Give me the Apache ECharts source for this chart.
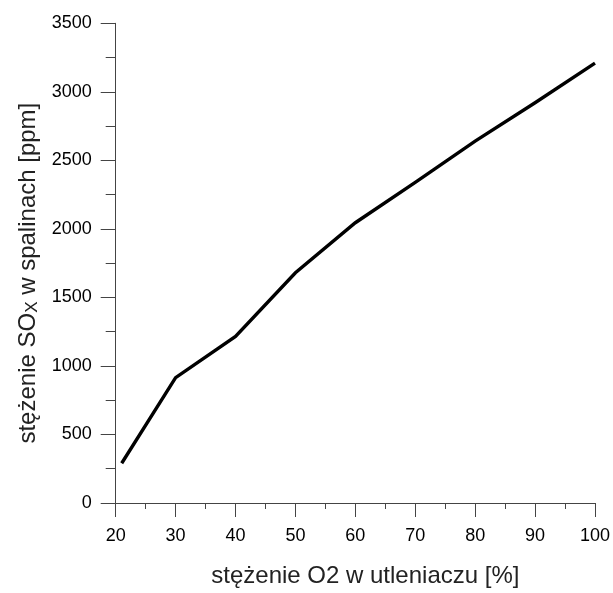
<!DOCTYPE html>
<html>
<head>
<meta charset="utf-8">
<script src="https://cdn.jsdelivr.net/npm/echarts@6/dist/echarts.min.js"></script>
<style>html,body{margin:0;padding:0;background:#fff}#c{width:613px;height:593px}</style>
</head>
<body>
<div id="c"></div>
<script>
var o2Percent = [21, 30, 40, 50, 60, 70, 80, 90, 100];
var soxPpm = [290, 915, 1215, 1680, 2045, 2340, 2640, 2920, 3210];
var xTitle = 'stężenie O2 w utleniaczu [%]';
var yTitle = '{t|stężenie SO}{sub|X}{t| w spalinach [ppm]}';

var chart = echarts.init(document.getElementById('c'), null, {renderer: 'canvas'});
var font = '"Liberation Sans", Arial, sans-serif';
var axisCol = '#444';
chart.setOption({
  animation: false,
  backgroundColor: '#fff',
  grid: {left: 115.7, right: 15.7, top: 23.3, bottom: 86.3, containLabel: false},
  xAxis: {
    type: 'value', min: 20, max: 100, interval: 10,
    name: xTitle, nameLocation: 'middle', nameGap: 61,
    nameTextStyle: {fontFamily: font, fontSize: 24, color: '#222', padding: [0, 0, 0, 20]},
    axisLine: {show: true, onZero: false, lineStyle: {color: axisCol, width: 1}},
    axisTick: {show: true, inside: false, length: 14, lineStyle: {color: axisCol, width: 1}},
    minorTick: {show: true, splitNumber: 2, length: 6, lineStyle: {color: axisCol, width: 1}},
    axisLabel: {fontFamily: font, fontSize: 18, color: '#000', margin: 24,
      formatter: function (v) { return String(v); }},
    splitLine: {show: false}
  },
  yAxis: {
    type: 'value', min: 0, max: 3500, interval: 500,
    name: yTitle, nameLocation: 'middle', nameGap: 72, nameRotate: 90,
    nameTextStyle: {fontFamily: font, fontSize: 24, color: '#222', padding: [0, 20, 0, 0],
      rich: {t: {fontFamily: font, fontSize: 24, color: '#222'},
             sub: {fontFamily: font, fontSize: 17, color: '#222', padding: [8, 0, 0, 0]}}},
    axisLine: {show: true, onZero: false, lineStyle: {color: axisCol, width: 1}},
    axisTick: {show: true, inside: false, length: 15, lineStyle: {color: axisCol, width: 1}},
    minorTick: {show: true, splitNumber: 2, length: 10, lineStyle: {color: axisCol, width: 1}},
    axisLabel: {fontFamily: font, fontSize: 18, color: '#000', margin: 24,
      formatter: function (v) { return String(v); }},
    splitLine: {show: false}
  },
  series: [{
    type: 'line',
    data: o2Percent.map(function (x, i) { return [x, soxPpm[i]]; }),
    showSymbol: false, symbol: 'none',
    lineStyle: {color: '#000', width: 3.4, cap: 'butt', join: 'miter'}
  }]
});
</script>
</body>
</html>
